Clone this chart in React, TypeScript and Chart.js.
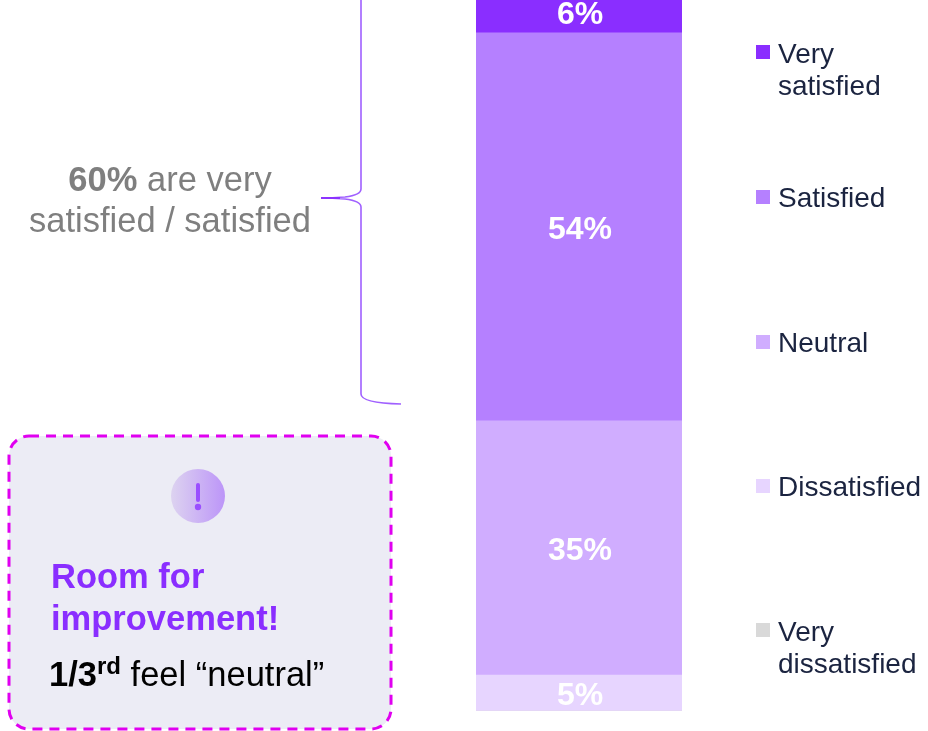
import React, { useEffect, useRef } from "react";
import { Chart, registerables } from "chart.js";

Chart.register(...registerables);

const categories = ["Satisfaction"];
const seriesNames = ["Very dissatisfied", "Dissatisfied", "Neutral", "Satisfied", "Very satisfied"];
const seriesValues = [0, 5, 35.3, 53.9, 5.8];
const seriesColors = ["#D9D9D9", "#E7D5FF", "#D0ADFF", "#B580FF", "#8A2EFF"];
const legendLines = [
  ["Very", "dissatisfied"],
  ["Dissatisfied"],
  ["Neutral"],
  ["Satisfied"],
  ["Very", "satisfied"],
];
const legendMarkerTops = [623, 479, 335, 190, 45];
const legendBaselines = [641, 496, 352, 207, 63];

const FONT = '"Liberation Sans", Arial, sans-serif';

const labelsPlugin = {
  id: "labelsAndLegend",
  afterDatasetsDraw(chart: any) {
    const { ctx } = chart;
    ctx.save();
    chart.data.datasets.forEach((ds: any, i: number) => {
      const v = ds.data[0];
      if (!v) return;
      const el = chart.getDatasetMeta(i).data[0];
      const y = (el.y + el.base) / 2;
      ctx.fillStyle = "#FFFFFF";
      ctx.font = `bold 32px ${FONT}`;
      ctx.textAlign = "center";
      ctx.textBaseline = "middle";
      ctx.fillText(`${Math.round(v)}%`, el.x + 1, y + 3);
    });
    chart.data.datasets.forEach((ds: any, i: number) => {
      ctx.fillStyle = ds.backgroundColor;
      ctx.fillRect(756, legendMarkerTops[i], 14, 14);
      ctx.fillStyle = "#1B2440";
      ctx.font = `28px ${FONT}`;
      ctx.textAlign = "left";
      ctx.textBaseline = "alphabetic";
      legendLines[i].forEach((line, k) => {
        ctx.fillText(line, 778, legendBaselines[i] + k * 32);
      });
    });
    ctx.restore();
  },
};

export default function App() {
  const ref = useRef<HTMLCanvasElement>(null);
  useEffect(() => {
    const chart = new Chart(ref.current!, {
      type: "bar",
      data: {
        labels: categories,
        datasets: seriesNames.map((name, i) => ({
          label: name,
          data: [seriesValues[i]],
          backgroundColor: seriesColors[i],
          borderWidth: 0,
          barPercentage: 1,
          categoryPercentage: 1,
        })),
      },
      options: {
        responsive: false,
        animation: false,
        layout: { padding: { left: 476, right: 246, top: 0, bottom: 20 } },
        plugins: { legend: { display: false }, tooltip: { enabled: false } },
        scales: {
          x: { stacked: true, display: false },
          y: { stacked: true, display: false, min: 0, max: 98.75 },
        },
      },
      plugins: [labelsPlugin],
    } as any);
    return () => chart.destroy();
  }, []);

  return (
    <div style={{ position: "absolute", left: 0, top: 0, width: 928, height: 731, background: "#fff", overflow: "hidden" }}>
      <canvas ref={ref} width={928} height={731} style={{ position: "absolute", left: 0, top: 0 }} />
      <svg width={928} height={731} style={{ position: "absolute", left: 0, top: 0 }} fontFamily={FONT}>
        <defs>
          <linearGradient id="ic" x1="0" x2="1" y1="0" y2="0">
            <stop offset="0" stopColor="#DDD3F0" />
            <stop offset="1" stopColor="#BC95F8" />
          </linearGradient>
        </defs>
        <path
          d="M361 -5 L361 189 Q361 195 345 197 Q332 198 321 198 Q332 198 345 199 Q361 201 361 207 L361 394 Q361 403 401 404"
          fill="none"
          stroke="#A060FF"
          strokeWidth={1.6}
        />
        <path d="M321 198 L340 198" fill="none" stroke="#8A2EFF" strokeWidth={1.8} />
        <text x={170} y={191} textAnchor="middle" fontSize={34.5} fill="#7F7F7F">
          <tspan fontWeight="bold">60%</tspan> are very
        </text>
        <text x={170} y={232} textAnchor="middle" fontSize={34.5} fill="#7F7F7F">
          satisfied / satisfied
        </text>
        <rect x={9} y={436} width={382} height={293} rx={20} fill="#ECECF5" stroke="#E000F0" strokeWidth={3} strokeDasharray="10 7" />
        <circle cx={198} cy={496} r={27} fill="url(#ic)" />
        <line x1={198} y1={485} x2={198} y2={500} stroke="#9A4FFF" strokeWidth={4} strokeLinecap="round" />
        <circle cx={198} cy={507} r={3.2} fill="#9A4FFF" />
        <text x={51} y={588} fontSize={34.5} fontWeight="bold" fill="#8A2EFF">Room for</text>
        <text x={51} y={630} fontSize={34.5} fontWeight="bold" fill="#8A2EFF">improvement!</text>
        <text x={49} y={686} fontSize={34.5} fill="#000">
          <tspan fontWeight="bold">1/3</tspan>
          <tspan fontWeight="bold" fontSize={24} dy={-12}>rd</tspan>
          <tspan dy={12}> feel “neutral”</tspan>
        </text>
      </svg>
    </div>
  );
}
